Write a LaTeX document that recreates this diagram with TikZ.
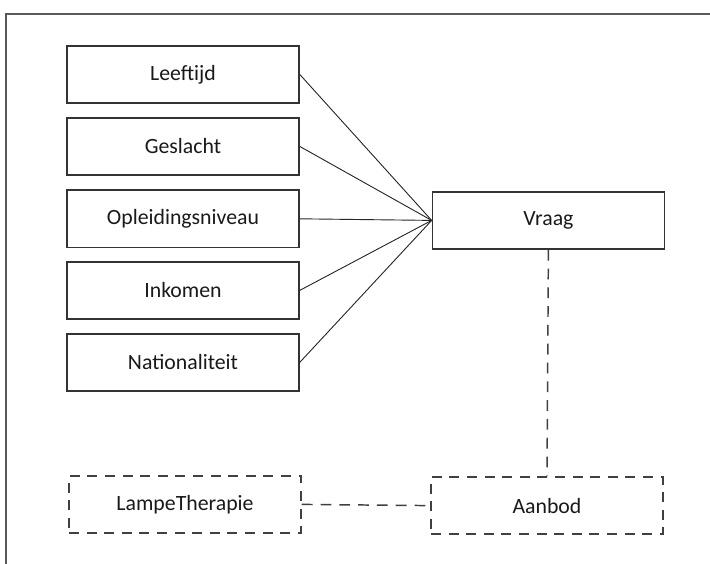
\documentclass[tikz,border=0pt]{standalone}
\usepackage{fontspec}
\setmainfont{Carlito}

\begin{document}
\begin{tikzpicture}[
  font=\fontsize{15.5}{18}\selectfont,
  factor/.style={rectangle, draw=black!80, line width=1.05pt, minimum width=5.8cm,
    minimum height=1.43cm, inner sep=2pt, text=black!90, align=center},
  offer/.style={factor, draw=black!75, dash pattern=on 0.25cm off 0.19cm},
  link/.style={draw=black!85, line width=0.65pt},
  dlink/.style={draw=black!75, line width=1.05pt, dash pattern=on 0.27cm off 0.2cm},
]
  \useasboundingbox (0,0) rectangle (17.75,-14.075);

  % Frame (cut off at right and bottom)
  \draw[draw=black!65, line width=1.4pt] (0.14,-14.1) -- (0.14,-0.34) -- (17.8,-0.34);

  % Factors
  \node[factor] (leeftijd) at (4.575, -1.86) {Leeftijd};
  \node[factor] (geslacht) at (4.575, -3.66) {Geslacht};
  \node[factor] (opleiding) at (4.575, -5.47) {Opleidingsniveau};
  \node[factor] (inkomen) at (4.575, -7.26) {Inkomen};
  \node[factor] (nationaliteit) at (4.575, -9.06) {Nationaliteit};

  % Demand and supply
  \node[factor] (vraag) at (13.71, -5.51) {Vraag};
  \node[offer] (aanbod) at (13.675, -12.64) {Aanbod};
  \node[offer] (lampe) at (4.625, -12.61) {LampeTherapie};

  % Relations
  \draw[link] (leeftijd.east) -- (vraag.west);
  \draw[link] (geslacht.east) -- (vraag.west);
  \draw[link] (opleiding.east) -- (vraag.west);
  \draw[link] (inkomen.east) -- (vraag.west);
  \draw[link] (nationaliteit.east) -- (vraag.west);
  \draw[dlink] (vraag.south) -- (aanbod.north);
  \draw[dlink] (lampe.east) -- (aanbod.west);

\end{tikzpicture}
\end{document}
